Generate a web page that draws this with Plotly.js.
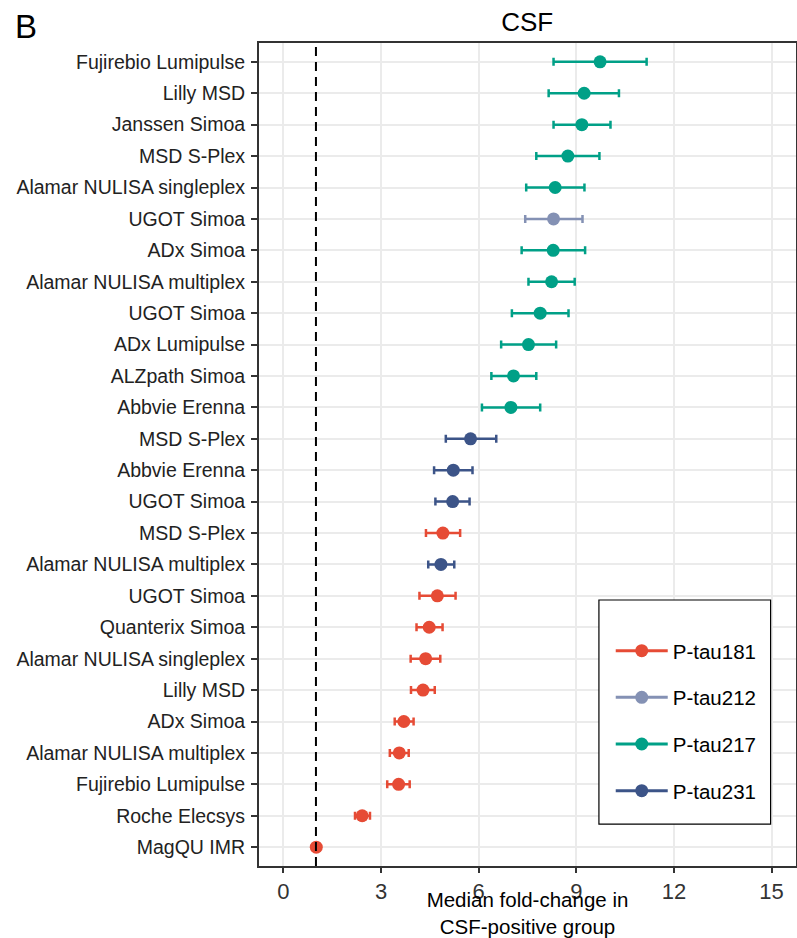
<!DOCTYPE html>
<html>
<head>
<meta charset="utf-8">
<script src="https://cdn.plot.ly/plotly-3.0.1.min.js"></script>
<style>html,body{margin:0;padding:0;background:#fff;}#chart{width:797px;height:938px;}</style>
</head>
<body>
<div id="chart"></div>
<script>
// Rows, top to bottom
const assays = ["Fujirebio Lumipulse","Lilly MSD","Janssen Simoa","MSD S-Plex","Alamar NULISA singleplex","UGOT Simoa","ADx Simoa","Alamar NULISA multiplex","UGOT Simoa","ADx Lumipulse","ALZpath Simoa","Abbvie Erenna","MSD S-Plex","Abbvie Erenna","UGOT Simoa","MSD S-Plex","Alamar NULISA multiplex","UGOT Simoa","Quanterix Simoa","Alamar NULISA singleplex","Lilly MSD","ADx Simoa","Alamar NULISA multiplex","Fujirebio Lumipulse","Roche Elecsys","MagQU IMR"];
const analyte = ["P-tau217","P-tau217","P-tau217","P-tau217","P-tau217","P-tau212","P-tau217","P-tau217","P-tau217","P-tau217","P-tau217","P-tau217","P-tau231","P-tau231","P-tau231","P-tau181","P-tau231","P-tau181","P-tau181","P-tau181","P-tau181","P-tau181","P-tau181","P-tau181","P-tau181","P-tau181"];
const median = [9.73,9.24,9.17,8.74,8.35,8.30,8.29,8.24,7.89,7.53,7.07,6.99,5.75,5.22,5.20,4.90,4.84,4.73,4.48,4.37,4.29,3.70,3.56,3.54,2.42,1.01];
const lower  = [8.30,8.15,8.30,7.77,7.46,7.43,7.32,7.53,7.02,6.69,6.39,6.10,4.99,4.63,4.67,4.38,4.45,4.18,4.09,3.91,3.92,3.42,3.27,3.19,2.20,0.96];
const upper  = [11.16,10.31,10.05,9.71,9.25,9.19,9.27,8.95,8.76,8.38,7.77,7.89,6.54,5.81,5.72,5.43,5.25,5.29,4.89,4.82,4.65,4.00,3.85,3.88,2.66,1.06];
const groups = ["P-tau181","P-tau212","P-tau217","P-tau231"];
const colors = ["#E64B35","#8491B4","#00A087","#3C5488"];
const xTicks = [0,3,6,9,12,15];
const refLine = 1;

const FONT = "Liberation Sans, Arial, Helvetica, sans-serif";
const rowIdx = assays.map((_, i) => i);
const traces = [];
groups.forEach((g, gi) => {
  const idx = rowIdx.filter(i => analyte[i] === g);
  traces.push({
    type: "scatter", mode: "markers",
    x: idx.map(i => median[i]), y: idx,
    marker: {color: colors[gi], size: 13},
    error_x: {type: "data", symmetric: false,
      array: idx.map(i => upper[i] - median[i]),
      arrayminus: idx.map(i => median[i] - lower[i]),
      color: colors[gi], thickness: 2.5, width: 4},
    showlegend: false, hoverinfo: "x+y"
  });
});
groups.forEach((g, gi) => {
  traces.push({
    type: "scatter", mode: "lines+markers", name: g,
    x: [null], y: [null], legendgroup: g,
    line: {color: colors[gi], width: 3},
    marker: {color: colors[gi], size: 13}
  });
});

const layout = {
  width: 797, height: 938,
  margin: {l: 259, r: 1, t: 43, b: 72},
  paper_bgcolor: "#fff", plot_bgcolor: "#fff",
  font: {family: FONT, color: "#000"},
  title: {text: "CSF", font: {size: 26, family: FONT, color: "#000"}, x: 0.6615, xanchor: "center", y: 0.9765, yanchor: "middle"},
  xaxis: {
    range: [-0.75, 15.75], tickvals: xTicks, ticktext: xTicks.map(String),
    showgrid: true, gridcolor: "#EBEBEB", gridwidth: 2, zeroline: false,
    ticks: "outside", ticklen: 5, tickwidth: 2, tickcolor: "#333",
    tickfont: {size: 22, family: FONT, color: "#333"}, ticklabelstandoff: 0,
    showline: true, linecolor: "#333", linewidth: 2, mirror: true,
    title: {text: "Median fold-change in<br>CSF-positive group", font: {size: 20.5, family: FONT, color: "#000"}, standoff: 0}
  },
  yaxis: {
    range: [25.6, -0.6], tickvals: rowIdx, ticktext: assays,
    showgrid: true, gridcolor: "#EBEBEB", gridwidth: 2, zeroline: false,
    ticks: "outside", ticklen: 6, tickwidth: 2, tickcolor: "#333",
    tickfont: {size: 19.5, family: FONT, color: "#222"}, ticklabelstandoff: 2,
    showline: true, linecolor: "#333", linewidth: 2, mirror: true
  },
  shapes: [
    {type: "line", xref: "x", yref: "paper", x0: refLine, x1: refLine, y0: 0, y1: 1,
     line: {color: "#000", width: 2, dash: "9px,6px"}, layer: "above"},
    {type: "rect", xref: "paper", yref: "paper", x0: 0.633, x1: 0.9527, y0: 0.051, y1: 0.3232,
     line: {color: "#000", width: 1.2}, fillcolor: "#fff", layer: "above"}
  ],
  legend: {
    x: 0.655, y: 0.2857, xanchor: "left", yanchor: "top",
    bgcolor: "rgba(0,0,0,0)", borderwidth: 0,
    font: {size: 20.5, family: FONT, color: "#000"},
    tracegroupgap: 17, itemwidth: 52, traceorder: "grouped"
  },
  annotations: [
    {text: "B", xref: "paper", yref: "paper", x: -246/537, y: 1 + 37/823, xanchor: "left", yanchor: "top",
     showarrow: false, font: {size: 33, family: FONT, color: "#000"}}
  ]
};
Plotly.newPlot("chart", traces, layout, {displayModeBar: false, staticPlot: true});
</script>
</body>
</html>
